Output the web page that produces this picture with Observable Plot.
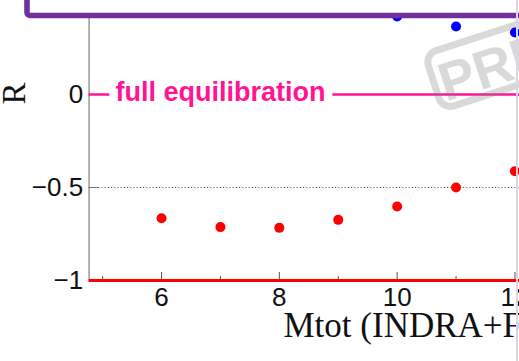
<!DOCTYPE html>
<html>
<head>
<meta charset="utf-8">
<script src="https://cdn.jsdelivr.net/npm/d3@7"></script>
<script src="https://cdn.jsdelivr.net/npm/@observablehq/plot@0.6"></script>
<style>
  html, body { margin: 0; padding: 0; background: #fff; overflow: hidden; }
  #chart { position: relative; width: 519px; height: 361px; overflow: hidden; }
  #chart .edge { position: absolute; left: 516px; top: 0; width: 1.5px; height: 361px; background: #dcd5e8; }
</style>
</head>
<body>
<div id="chart"><div class="edge"></div></div>
<script>
// Isospin ratio R as a function of the total multiplicity
const mtotRed = [6, 7, 8, 9, 10, 11, 12];
const rRed = [-0.665, -0.713, -0.717, -0.674, -0.602, -0.5, -0.412];
const mtotBlue = [10, 11, 12];
const rBlue = [0.42, 0.366, 0.333];

// Axis ticks and reference levels
const xMajorTicks = [6, 8, 10, 12];
const xMinorTicks = [5, 7, 9, 11];
const yMajorTicks = [-1, -0.5, 0];
const gridLevels = [-0.5];
const equilibrationLevel = [0];
const floorLevel = [-1];

// Texts
const equilibrationLabel = "full equilibration";
const xTitle = "Mtot (INDRA+FAZIA)";
const yTitle = "R";
const stampText = "PRELIMINARY";

const sans = "'Liberation Sans', Arial, Helvetica, sans-serif";
const serif = "'Liberation Serif', 'Times New Roman', Times, serif";
const xMin = 4.77;
const fmt = d3.format("~g");

// "PRELIMINARY" stamp, tilted, semi-transparent
function stamp() {
  const g = d3.create("svg:g").attr("transform", "translate(420.3,52.1) rotate(-18)");
  g.append("rect")
    .attr("x", 3.5).attr("y", 3.5).attr("width", 460).attr("height", 58).attr("rx", 12)
    .attr("fill", "none").attr("stroke", "#808080").attr("stroke-opacity", 0.3).attr("stroke-width", 7);
  g.append("text")
    .attr("x", 9).attr("y", 55).attr("text-anchor", "start")
    .attr("font-family", sans).attr("font-weight", "bold").attr("font-size", 54)
    .attr("fill", "#808080").attr("fill-opacity", 0.3)
    .text(stampText);
  return g.node();
}

// Title pave along the top
function titleBox() {
  return d3.create("svg:rect")
    .attr("x", 27).attr("y", -60).attr("width", 700).attr("height", 75.5).attr("rx", 3)
    .attr("fill", "white").attr("stroke", "#7030a0").attr("stroke-width", 5.6)
    .node();
}

const chart = Plot.plot({
  width: 519,
  height: 361,
  marginLeft: 88.6,
  marginRight: 0,
  marginTop: 1,
  marginBottom: 81,
  style: { fontFamily: sans, background: "white", overflow: "hidden" },
  x: { domain: [xMin, xMin + (519 - 88.6) / 58.9] },
  y: { domain: [-1, 0.5] },
  marks: [
    Plot.ruleY(gridLevels, { stroke: "#666", strokeWidth: 1, strokeDasharray: "1.2,2" }),
    Plot.ruleX([xMin], { stroke: "#888", strokeWidth: 1.3 }),
    Plot.axisX(xMinorTicks, { anchor: "bottom", tickSize: -4, fill: null, stroke: "#555", label: null }),
    Plot.axisX(xMajorTicks, {
      anchor: "bottom", tickSize: -8, tickPadding: 15, stroke: "#555", fill: "#111",
      fontSize: 26, fontFamily: sans, tickFormat: fmt, label: null
    }),
    Plot.axisY(yMajorTicks, {
      anchor: "left", tickSize: -10, tickPadding: 16, stroke: "#777", fill: "#111",
      fontSize: 26, fontFamily: sans, tickFormat: fmt, label: null
    }),
    Plot.ruleY(floorLevel, { stroke: "#ff0000", strokeWidth: 2.8 }),
    Plot.ruleY(equilibrationLevel, { stroke: "#ff1493", strokeWidth: 2.6 }),
    Plot.text(equilibrationLevel, {
      y: d => d, text: () => equilibrationLabel, frameAnchor: "left", dx: 26.4, dy: -2.6,
      textAnchor: "start", fill: "#ff1493", stroke: "white", strokeWidth: 17, paintOrder: "stroke",
      strokeLinejoin: "round", fontSize: 27, fontWeight: "bold", fontFamily: sans
    }),
    stamp,
    Plot.dot(mtotRed, { x: mtotRed, y: rRed, r: 5, fill: "#ff0000" }),
    Plot.dot(mtotBlue, { x: mtotBlue, y: rBlue, r: 5, fill: "#0000ff" }),
    Plot.text([xTitle], {
      frameAnchor: "bottom-left", dx: 194.4, dy: 56.8, textAnchor: "start",
      fontFamily: serif, fontSize: 35, fill: "#111"
    }),
    Plot.text([yTitle], {
      frameAnchor: "left", dx: 14.4 - 88.6, dy: 93 - 140.5, rotate: -90, textAnchor: "middle",
      fontFamily: serif, fontSize: 33, fill: "#111"
    }),
    titleBox
  ]
});

document.getElementById("chart").prepend(chart);
</script>
</body>
</html>
